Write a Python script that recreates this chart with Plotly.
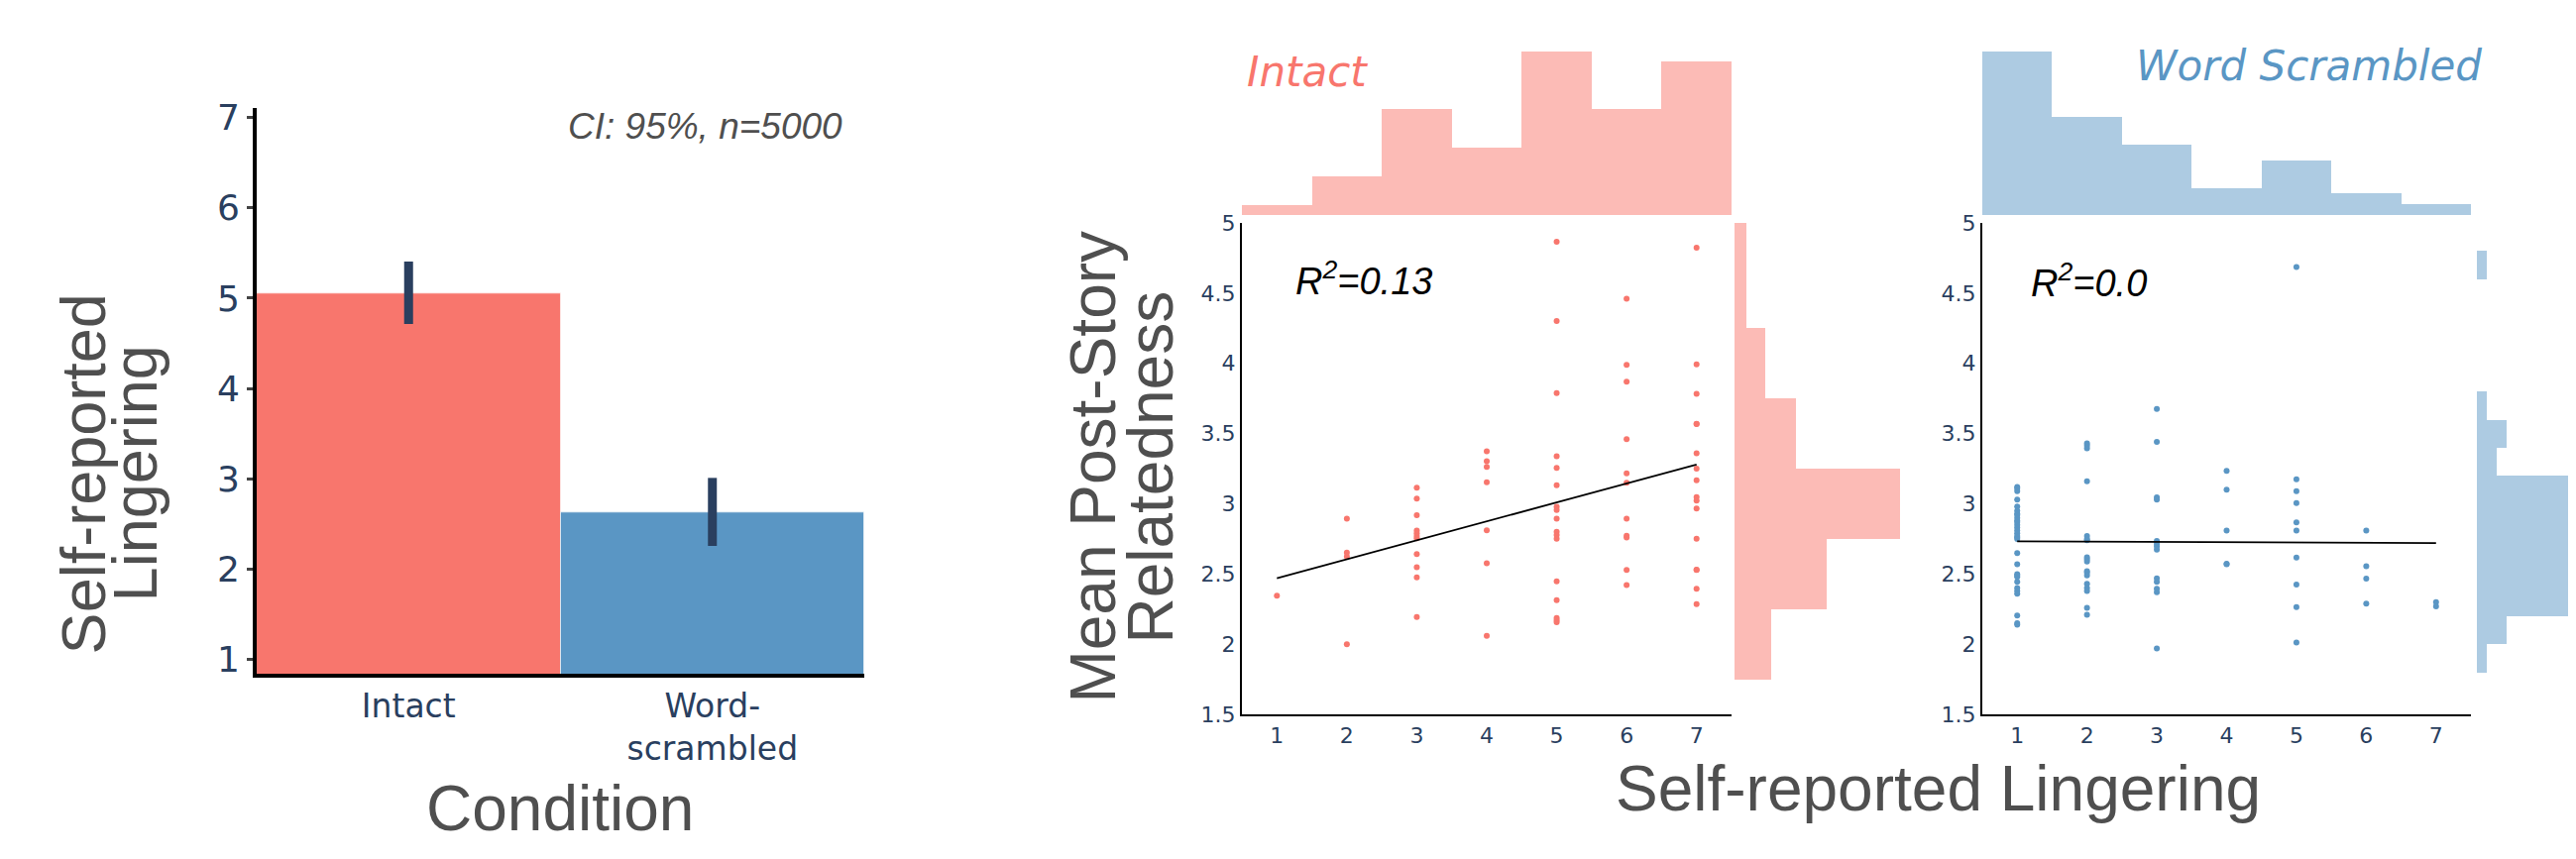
import plotly.graph_objects as go

W, H = 2599, 867

# ---------------- data ----------------
conditions = ["Intact", "Word-scrambled"]
condition_ticktext = ["Intact", "Word-<br>scrambled"]
lingering_means = [5.054, 2.622]
ci_upper = [5.405, 3.011]
ci_lower = [4.714, 2.259]
bar_ticks = [1, 2, 3, 4, 5, 6, 7]

intact_lingering = (
    [1] * 1 + [2] * 4 + [3] * 11 + [4] * 7 + [5] * 17 + [6] * 11 + [7] * 16
)
intact_relatedness = [
    2.345,
    2.895, 2.652, 2.625, 2.0,
    3.114, 3.037, 2.919, 2.81, 2.79, 2.77, 2.755, 2.642, 2.548, 2.477, 2.195,
    3.374, 3.303, 3.263, 3.153, 2.811, 2.576, 2.06,
    4.865, 4.302, 3.789, 3.339, 3.256, 3.133, 2.978, 2.956, 2.895, 2.801, 2.777,
    2.752, 2.448, 2.315, 2.187, 2.172, 2.158,
    4.46, 3.99, 3.87, 3.46, 3.216, 3.15, 2.895, 2.772, 2.76, 2.529, 2.421,
    4.823, 3.993, 3.782, 3.568, 3.57, 3.359, 3.251, 3.167, 3.047, 3.023, 2.966,
    2.752, 2.531, 2.53, 2.396, 2.286,
]

word_lingering = (
    [1] * 30 + [2] * 18 + [3] * 13 + [4] * 5 + [5] * 10 + [6] * 4 + [7] * 2
)
word_relatedness = [
    3.12, 3.11, 3.09, 3.03, 2.98, 2.95, 2.93, 2.92, 2.90, 2.88, 2.87, 2.85, 2.83,
    2.81, 2.79, 2.77, 2.76, 2.75, 2.65, 2.57, 2.50, 2.49, 2.48, 2.445, 2.40, 2.38,
    2.36, 2.205, 2.15, 2.14,
    3.43, 3.415, 3.395, 3.16, 2.77, 2.75, 2.74, 2.62, 2.605, 2.59, 2.52, 2.51,
    2.49, 2.43, 2.40, 2.38, 2.26, 2.21,
    3.676, 3.44, 3.045, 3.03, 2.735, 2.715, 2.696, 2.674, 2.47, 2.445, 2.396,
    2.37, 1.97,
    3.234, 3.10, 2.81, 2.573, 2.57,
    4.686, 3.175, 3.09, 3.005, 2.868, 2.81, 2.617, 2.426, 2.264, 2.013,
    2.81, 2.556, 2.467, 2.29,
    2.30, 2.27,
]

fit_x = [1, 7]
intact_fit_y = [2.47, 3.28]
word_fit_y = [2.733, 2.72]

scatter_xticks = [1, 2, 3, 4, 5, 6, 7]
scatter_yticks = [1.5, 2, 2.5, 3, 3.5, 4, 4.5, 5]
scatter_yticktext = ["1.5", "2", "2.5", "3", "3.5", "4", "4.5", "5"]

# ---------------- styles ----------------
RED = "#F8766D"
BLUE = "#5A96C4"
RED_L = "#FCBBB6"
BLUE_L = "#ADCBE2"
TICK = "#2A3F5F"
TITLE = "#4F4F4F"
TICKFONT = "DejaVu Sans"
TITLEFONT = "Liberation Sans"

OFF = 8  # page body margin


def fx(p):
    return (p - OFF) / W


def fy(p):
    return 1 - (p - OFF) / H


fig = go.Figure()

# bar chart
fig.add_trace(go.Bar(
    x=conditions, y=lingering_means,
    marker=dict(color=[RED, BLUE], line=dict(color="rgba(255,255,255,0.6)", width=1)),
    error_y=dict(type="data", symmetric=False,
                 array=[u - m for u, m in zip(ci_upper, lingering_means)],
                 arrayminus=[m - l for m, l in zip(lingering_means, ci_lower)],
                 thickness=9, width=0, color=TICK),
    xaxis="x", yaxis="y",
))

# intact scatter
fig.add_trace(go.Scatter(x=intact_lingering, y=intact_relatedness, mode="markers",
                         marker=dict(color=RED, size=6), xaxis="x2", yaxis="y2"))
fig.add_trace(go.Scatter(x=fit_x, y=intact_fit_y, mode="lines",
                         line=dict(color="black", width=1.8), xaxis="x2", yaxis="y2"))
fig.add_trace(go.Histogram(x=intact_lingering, xbins=dict(start=0.5, end=7.5, size=1),
                           marker=dict(color=RED_L, line=dict(width=0)),
                           xaxis="x3", yaxis="y3"))
fig.add_trace(go.Histogram(y=intact_relatedness, ybins=dict(start=1.75, end=5.25, size=0.5),
                           marker=dict(color=RED_L, line=dict(width=0)),
                           xaxis="x4", yaxis="y4"))

# word scrambled scatter
fig.add_trace(go.Scatter(x=word_lingering, y=word_relatedness, mode="markers",
                         marker=dict(color=BLUE, size=6), xaxis="x5", yaxis="y5"))
fig.add_trace(go.Scatter(x=fit_x, y=word_fit_y, mode="lines",
                         line=dict(color="black", width=1.8), xaxis="x5", yaxis="y5"))
fig.add_trace(go.Histogram(x=word_lingering, xbins=dict(start=0.5, end=7.5, size=1),
                           marker=dict(color=BLUE_L, line=dict(width=0)),
                           xaxis="x6", yaxis="y6"))
fig.add_trace(go.Histogram(y=word_relatedness, ybins=dict(start=1.8, end=5.0, size=0.2),
                           marker=dict(color=BLUE_L, line=dict(width=0)),
                           xaxis="x7", yaxis="y7"))

hidden = dict(visible=False, showgrid=False, zeroline=False, fixedrange=True)

scat_y_dom = [fy(730), fy(219)]
top_y_dom = [fy(211), fy(41)]

sc_x = dict(range=[0.5, 7.5], tickvals=scatter_xticks, showline=True, linecolor="black",
            linewidth=2, ticks="", showgrid=False, zeroline=False,
            tickfont=dict(family=TICKFONT, size=22, color=TICK))
sc_y = dict(range=[1.5, 5], domain=scat_y_dom, tickvals=scatter_yticks,
            ticktext=scatter_yticktext, showline=True, linecolor="black", linewidth=2,
            ticks="", showgrid=False, zeroline=False,
            tickfont=dict(family=TICKFONT, size=22, color=TICK))

fig.update_layout(
    width=W, height=H, autosize=False,
    margin=dict(l=0, r=0, t=0, b=0, pad=0),
    paper_bgcolor="white", plot_bgcolor="white",
    showlegend=False, bargap=0,
    xaxis=dict(domain=[fx(259), fx(872)], range=[-0.5, 1.5], type="category",
               tickvals=conditions, ticktext=condition_ticktext,
               showline=True, linecolor="black", linewidth=4, ticks="",
               showgrid=False, zeroline=False, anchor="y",
               tickfont=dict(family=TICKFONT, size=33, color=TICK)),
    yaxis=dict(domain=[fy(688), fy(100)], range=[0.84, 7.1], tickvals=bar_ticks,
               showline=True, linecolor="black", linewidth=4,
               ticks="outside", ticklen=6, tickwidth=3, tickcolor="#444444",
               showgrid=False, zeroline=False, anchor="x",
               tickfont=dict(family=TICKFONT, size=36, color=TICK)),
    xaxis2=dict(domain=[fx(1253), fx(1747)], anchor="y2", **sc_x),
    yaxis2=dict(anchor="x2", **sc_y),
    xaxis3=dict(domain=[fx(1253), fx(1747)], range=[0.5, 7.5], anchor="y3", **hidden),
    yaxis3=dict(domain=top_y_dom, range=[0, 17], anchor="x3", **hidden),
    xaxis4=dict(domain=[fx(1750), fx(1917)], range=[0, 27], anchor="y4", **hidden),
    yaxis4=dict(domain=scat_y_dom, range=[1.5, 5], anchor="x4", **hidden),
    xaxis5=dict(domain=[fx(2000), fx(2493)], anchor="y5", **sc_x),
    yaxis5=dict(anchor="x5", **sc_y),
    xaxis6=dict(domain=[fx(2000), fx(2493)], range=[0.5, 7.5], anchor="y6", **hidden),
    yaxis6=dict(domain=top_y_dom, range=[0, 30], anchor="x6", **hidden),
    xaxis7=dict(domain=[fx(2499), 1.0], range=[0, 10.8], anchor="y7", **hidden),
    yaxis7=dict(domain=scat_y_dom, range=[1.5, 5], anchor="x7", **hidden),
)

ann = []


def add_ann(text, x, y, size, color, family, xanchor="center", angle=0):
    ann.append(dict(text=text, x=fx(x), y=fy(y), xref="paper", yref="paper",
                    xanchor=xanchor, yanchor="middle", showarrow=False, textangle=angle,
                    font=dict(family=family, size=size, color=color)))


add_ann("<i>CI: 95%, n=5000</i>", 852, 119, 37, TITLE, TITLEFONT, xanchor="right")
add_ann("Condition", 565, 828, 64, TITLE, TITLEFONT)
add_ann("Self-reported", 84, 480, 63, TITLE, TITLEFONT, angle=-90)
add_ann("Lingering", 136, 480, 63, TITLE, TITLEFONT, angle=-90)
add_ann("Mean Post-Story", 1103, 473, 64, TITLE, TITLEFONT, angle=-90)
add_ann("Relatedness", 1161, 473, 64, TITLE, TITLEFONT, angle=-90)
add_ann("Self-reported Lingering", 1955, 807, 64, TITLE, TITLEFONT)
add_ann("<i>R<sup>2</sup>=0.13</i>", 1305, 277, 38, "black", TITLEFONT, xanchor="left")
add_ann("<i>R<sup>2</sup>=0.0</i>", 2047, 279, 38, "black", TITLEFONT, xanchor="left")
add_ann("<i>Intact</i>", 1256, 62, 42, RED, TICKFONT, xanchor="left")
add_ann("<i>Word Scrambled</i>", 2506, 56, 42, BLUE, TICKFONT, xanchor="right")

fig.update_layout(annotations=ann)

fig.write_html("out.html")
